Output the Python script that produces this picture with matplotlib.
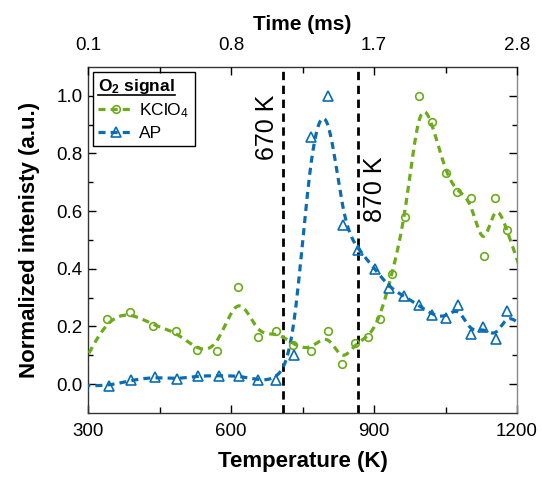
"""
O2 signal of KClO4 and AP vs temperature, with the time axis on top.
Curves are drawn as cubic B-splines using the measured points as control points.
"""

import numpy as np
import matplotlib.pyplot as plt
from matplotlib.lines import Line2D
from matplotlib.ticker import MultipleLocator, FixedLocator

plt.rcParams['font.family'] = ['Liberation Sans', 'DejaVu Sans']
plt.rcParams['mathtext.default'] = 'regular'

# KClO4 (first/last points sit just outside the axis range)
kclo4_temp = [290, 340, 389, 437, 484, 528, 571, 615, 656, 694, 731, 767, 803,
              832, 860, 888, 912, 938, 966, 995, 1022, 1050, 1075, 1103, 1130,
              1154, 1179, 1215]
kclo4_sig = [0.07, 0.227, 0.25, 0.203, 0.183, 0.118, 0.115, 0.337, 0.162,
             0.184, 0.137, 0.115, 0.184, 0.071, 0.141, 0.162, 0.227, 0.383,
             0.579, 1.0, 0.909, 0.732, 0.666, 0.645, 0.446, 0.645, 0.535, 0.36]

# AP
ap_temp = [290, 344, 391, 440, 486, 530, 575, 617, 657, 694, 732, 767, 803,
           835, 867, 902, 932, 963, 994, 1022, 1050, 1077, 1103, 1129, 1156,
           1180, 1215]
ap_sig = [-0.005, -0.006, 0.014, 0.025, 0.017, 0.029, 0.029, 0.029, 0.014,
          0.014, 0.10, 0.858, 1.0, 0.553, 0.466, 0.40, 0.335, 0.305, 0.273,
          0.241, 0.229, 0.273, 0.175, 0.198, 0.158, 0.252, 0.19]

# marker lines and their labels
vline_temp = [710, 867]
vline_labels = ['670 K', '870 K']
vline_label_pos = [(675, 0.89), (902, 0.675)]

# top axis (time) labels at the major temperature ticks
time_tick_temp = [300, 600, 900, 1200]
time_tick_labels = ['0.1', '0.8', '1.7', '2.8']

GREEN = '#6CAB1A'
BLUE = '#0A6DB3'


def bspline(xs, ys, n=30):
    """Clamped uniform cubic B-spline with the points as control points."""
    px = np.r_[xs[0], xs[0], xs, xs[-1], xs[-1]].astype(float)
    py = np.r_[ys[0], ys[0], ys, ys[-1], ys[-1]].astype(float)
    t = np.linspace(0, 1, n, endpoint=False)
    b0 = (1 - t) ** 3 / 6
    b1 = (3 * t ** 3 - 6 * t ** 2 + 4) / 6
    b2 = (-3 * t ** 3 + 3 * t ** 2 + 3 * t + 1) / 6
    b3 = t ** 3 / 6
    cx, cy = [], []
    for i in range(len(px) - 3):
        cx.append(b0 * px[i] + b1 * px[i + 1] + b2 * px[i + 2] + b3 * px[i + 3])
        cy.append(b0 * py[i] + b1 * py[i + 1] + b2 * py[i + 2] + b3 * py[i + 3])
    return np.r_[np.concatenate(cx), px[-1]], np.r_[np.concatenate(cy), py[-1]]


fig = plt.figure(figsize=(5.42, 4.78), dpi=100)
ax = fig.add_axes([0.1624, 0.136, 0.7915, 0.724])

dash = (2.2, 1.6)

# smoothed curves
x, y = bspline(kclo4_temp, kclo4_sig)
ax.plot(x, y, color=GREEN, lw=2.3, dashes=dash, zorder=3)
x, y = bspline(ap_temp, ap_sig)
ax.plot(x, y, color=BLUE, lw=2.3, dashes=dash, zorder=3)

# measured points
ax.plot(kclo4_temp, kclo4_sig, ls='none', marker='o', ms=5.5, mfc='none',
        mec=GREEN, mew=1.2, zorder=4)
ax.plot(ap_temp, ap_sig, ls='none', marker='^', ms=7.5, mfc='none',
        mec=BLUE, mew=1.2, zorder=4)

for t in vline_temp:
    ax.axvline(t, color='black', lw=2.0, dashes=(3.0, 2.0), zorder=2)
for (tx, ty), lab in zip(vline_label_pos, vline_labels):
    ax.text(tx, ty, lab, rotation=90, ha='center', va='center', fontsize=18)

ax.set_xlim(300, 1200)
ax.set_ylim(-0.1, 1.1)
ax.xaxis.set_major_locator(MultipleLocator(300))
ax.xaxis.set_minor_locator(MultipleLocator(150))
ax.yaxis.set_major_locator(FixedLocator([0.0, 0.2, 0.4, 0.6, 0.8, 1.0]))
ax.yaxis.set_minor_locator(FixedLocator([0.1, 0.3, 0.5, 0.7, 0.9]))
ax.yaxis.set_major_formatter(plt.FuncFormatter(lambda v, p: f"{v:.1f}"))
ax.tick_params(which='both', direction='in', right=True, labelsize=13.5,
               width=1.0)
ax.tick_params(axis='x', which='major', length=6, pad=7)
ax.tick_params(axis='x', which='minor', length=4)
ax.tick_params(axis='y', which='major', length=6, pad=4)
ax.tick_params(axis='y', which='minor', length=3.5)

for s in ax.spines.values():
    s.set_linewidth(1.0)
    s.set_color('#333333')
ax.spines['right'].set_color('#888888')

ax.set_xlabel('Temperature (K)', fontsize=16, fontweight='bold', labelpad=8)
ax.set_ylabel('Normalized intenisty (a.u.)', fontsize=16, fontweight='bold',
              labelpad=12)

# top time axis
top = ax.twiny()
top.set_xlim(ax.get_xlim())
top.xaxis.set_major_locator(FixedLocator(time_tick_temp))
top.xaxis.set_minor_locator(FixedLocator([450, 750, 1050]))
top.set_xticklabels(time_tick_labels)
top.tick_params(which='both', direction='in', labelsize=13.5, width=1.0)
top.tick_params(which='major', length=6, pad=9)
top.tick_params(which='minor', length=4)
top.set_xlabel('Time (ms)', fontsize=15, fontweight='bold', labelpad=5)
for s in top.spines.values():
    s.set_visible(False)

# legend
handles = [
    Line2D([], [], color=GREEN, lw=2.3, dashes=dash, marker='o', ms=5.5,
           mfc='none', mec=GREEN, mew=1.2),
    Line2D([], [], color=BLUE, lw=2.3, dashes=dash, marker='^', ms=7.5,
           mfc='none', mec=BLUE, mew=1.2),
]
leg = ax.legend(handles, ['KClO$_4$', 'AP'], loc='upper left',
                bbox_to_anchor=(0.0, 1.0), borderaxespad=0.3,
                title='O$_2$ signal', alignment='left', fontsize=12.5,
                title_fontproperties={'weight': 'bold', 'size': 12.5},
                frameon=True, fancybox=False, edgecolor='black',
                framealpha=1, handlelength=2.0, handletextpad=0.35,
                borderpad=0.3, labelspacing=0.3)
leg.get_frame().set_linewidth(1.0)
leg.set_zorder(10)

# underline the legend title
fig.canvas.draw()
bb = leg.get_title().get_window_extent()
inv = fig.transFigure.inverted()
(x0, y0), (x1, _) = inv.transform([[bb.x0, bb.y0 + 1], [bb.x1, bb.y0]])
fig.add_artist(Line2D([x0, x1], [y0, y0], color='black', lw=1.2,
                      transform=fig.transFigure, zorder=11))

plt.savefig('out.png', dpi=100)
